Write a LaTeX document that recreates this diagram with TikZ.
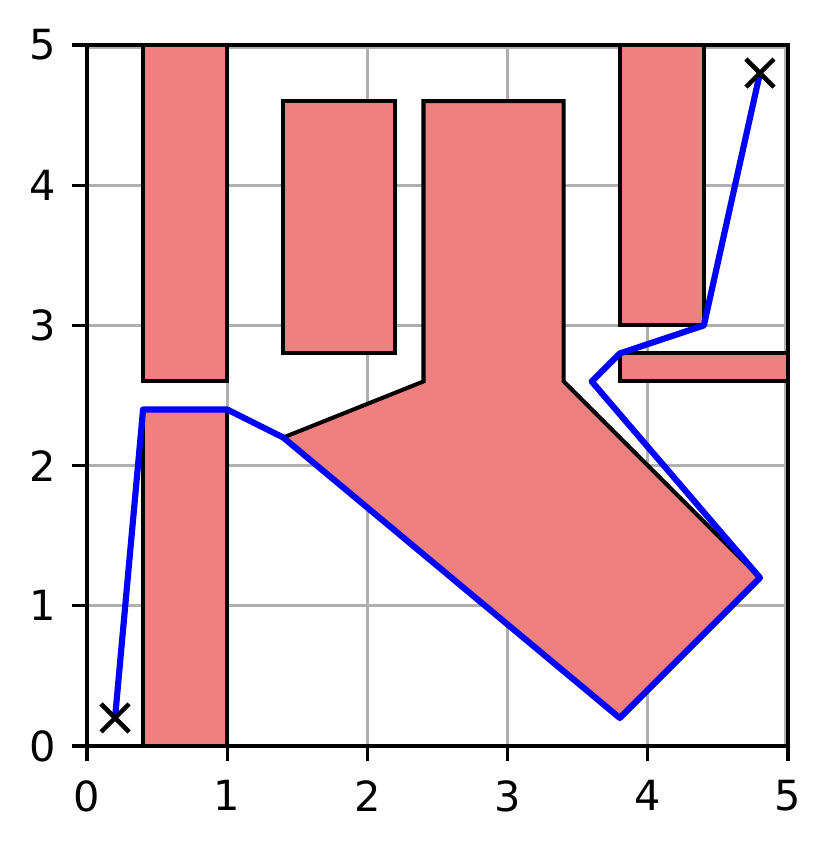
\documentclass[tikz,border=0pt]{standalone}
\usepackage{fontspec}
\setmainfont{DejaVu Sans}
\definecolor{obst}{RGB}{240,128,128}
\definecolor{gridc}{RGB}{176,176,176}
\tikzset{
  obstacle/.style={fill=obst,draw=black,line width=1.15pt,line join=miter},
  gridline/.style={draw=gridc,line width=0.94pt},
  pathline/.style={draw=blue,line width=1.75pt,line join=round,line cap=round},
  spine/.style={draw=black,line width=0.94pt,line cap=rect},
  tickmark/.style={draw=black,line width=0.94pt},
  ticklabel/.style={inner sep=0pt,font=\fontsize{11.8}{14}\selectfont},
  xmark/.style={draw=black,line width=1.3pt}
}
\begin{document}
\begin{tikzpicture}[x=1.4cm,y=1.4cm]
\useasboundingbox (-0.6205,-0.7275) rectangle (5.3138,5.321);
% grid
\foreach \v in {1,2,3,4}{
  \draw[gridline] (\v,0) -- (\v,5);
  \draw[gridline] (0,\v) -- (5,\v);
}
\draw[gridline] (0,4.985) -- (5,4.985);
\draw[gridline] (4.985,0) -- (4.985,5);
% obstacles
\begin{scope}
\clip (-0.02,-0.02) rectangle (5.0,5.02);
\draw[obstacle] (0.4,2.6) rectangle (1.0,5.0);
\draw[obstacle] (0.4,0.0) rectangle (1.0,2.4);
\draw[obstacle] (1.4,2.8) rectangle (2.2,4.6);
\draw[obstacle] (2.4,4.6) -- (3.4,4.6) -- (3.4,2.6) -- (4.8,1.2) -- (3.8,0.2) -- (1.4,2.2) -- (2.4,2.6) -- cycle;
\draw[obstacle] (3.8,3.0) rectangle (4.4,5.0);
\draw[obstacle] (3.8,2.6) rectangle (5.0,2.8);
\end{scope}
% path
\coordinate (p0) at (0.2,0.2);
\coordinate (p1) at (0.4,2.4);
\coordinate (p2) at (1.0,2.4);
\coordinate (p3) at (1.4,2.2);
\coordinate (p4) at (3.8,0.2);
\coordinate (p5) at (4.8,1.2);
\coordinate (p6) at (3.6,2.6);
\coordinate (p7) at (3.8,2.8);
\coordinate (p8) at (4.4,3.0);
\coordinate (p9) at (4.8,4.8);
\draw[pathline] (p0) -- (p1) -- (p2) -- (p3) -- (p4) -- (p5) -- (p6) -- (p7) -- (p8) -- (p9);
% markers
\foreach \c in {p0,p9}{
  \draw[xmark] ([shift={(-0.1,-0.1)}]\c) -- ([shift={(0.1,0.1)}]\c);
  \draw[xmark] ([shift={(-0.1,0.1)}]\c) -- ([shift={(0.1,-0.1)}]\c);
}
% spines
\draw[spine] (0,0) rectangle (5,5);
% ticks and labels
\foreach \v in {0,1,2,3,4,5}{
  \draw[tickmark] (\v,0) -- (\v,-0.104);
  \draw[tickmark] (0,\v) -- (-0.104,\v);
  \node[ticklabel,anchor=north] (xl\v) at (\v,-0.24) {\v};
  \node[ticklabel,anchor=east] (yl\v) at (-0.215,\v) {\v};
}
\end{tikzpicture}
\end{document}
